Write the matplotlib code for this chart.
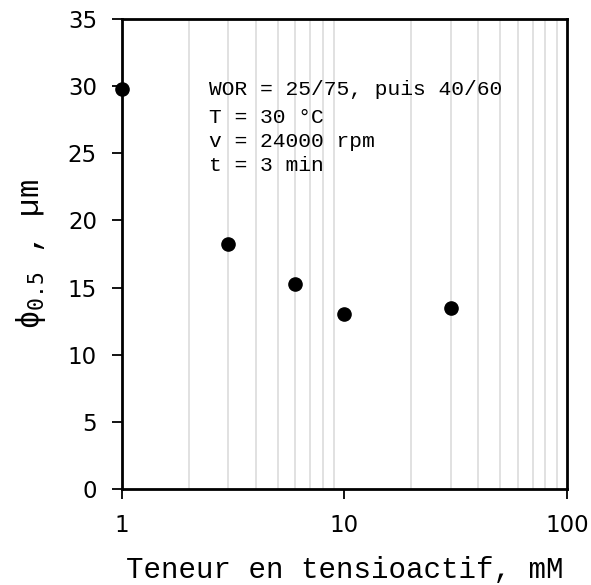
import numpy as np
import matplotlib.pyplot as plt
from matplotlib.patches import Rectangle

# data
teneur = [1, 3, 6, 10, 30]          # mM
phi05 = [29.8, 18.25, 15.3, 13.0, 13.5]   # um

x_ticks = [1, 10, 100]
y_ticks = [0, 5, 10, 15, 20, 25, 30, 35]

conditions = ["T = 30 °C", "v = 24000 rpm", "t = 3 min"]
wor_text = "WOR = 25/75, puis 40/60"

mono = ['Liberation Mono', 'DejaVu Sans']

fig = plt.figure(figsize=(5.91, 5.85), dpi=100)
ax = fig.add_axes([0.2064, 0.1641, 0.753, 0.8034])

ax.set_xscale('log')
ax.set_xlim(1, 100)
ax.set_ylim(0, 35)

# light vertical grid only on the minor log ticks
ax.grid(True, which='minor', axis='x', color='#d9d9d9', lw=1.1, zorder=0)
ax.grid(False, which='major')

# white boxes behind the annotations
ax.add_patch(Rectangle((0.153, 0.657), 0.73, 0.23, transform=ax.transAxes,
                       facecolor='white', edgecolor='none', zorder=1))
ax.add_patch(Rectangle((0.153, 0.615), 0.494, 0.213, transform=ax.transAxes,
                       facecolor='white', edgecolor='none', zorder=1))

ax.plot(teneur, phi05, 'o', color='black', markersize=9.5, clip_on=False, zorder=5)

ax.text(0.196, 0.849, wor_text, transform=ax.transAxes, fontsize=15.3,
        family=mono, va='center', ha='left', zorder=3)
for i, line in enumerate(conditions):
    ax.text(0.196, 0.791 - i * 0.051, line, transform=ax.transAxes, fontsize=15.3,
            family=mono, va='center', ha='left', zorder=3)

ax.set_xticks(x_ticks)
ax.set_xticklabels([str(v) for v in x_ticks])
ax.set_yticks(y_ticks)
ax.tick_params(axis='both', which='major', direction='out', length=7, width=1.3,
               labelsize=16.5, colors='black')
ax.tick_params(axis='x', which='major', pad=11)
ax.tick_params(axis='y', which='major', pad=11)
ax.tick_params(axis='x', which='minor', length=0)

for s in ax.spines.values():
    s.set_linewidth(2)
    s.set_color('black')

ax.set_xlabel("Teneur en tensioactif, mM", family=mono, fontsize=21, labelpad=14)
ax.set_ylabel(r"ϕ$_{\mathtt{0.5}}$ , µm", family=mono, fontsize=22, labelpad=14)

fig.savefig('out.png', dpi=100)
